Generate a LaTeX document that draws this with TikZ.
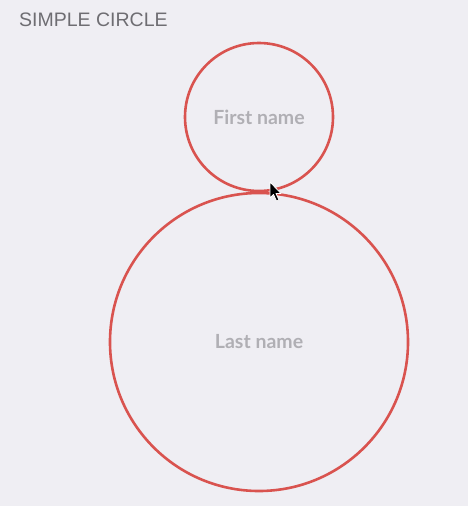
\documentclass[tikz,border=0pt]{standalone}
\usepackage{fontspec}
\setmainfont{Liberation Sans}
\newfontfamily\labelfont{Lato}
\definecolor{bg}{HTML}{EFEEF3}
\definecolor{ring}{HTML}{D9534F}
\definecolor{titlegray}{HTML}{6E6D72}
\definecolor{labelgray}{HTML}{B0AFB4}
\tikzset{
  ring/.style={draw=ring, line width=2.6pt, circle, inner sep=0pt},
  lbl/.style={text=labelgray, font=\labelfont\bfseries\fontsize{19.5}{22}\selectfont},
  ttl/.style={text=titlegray, font=\fontsize{19.5}{22}\selectfont, anchor=base west, inner sep=0pt}
}
\begin{document}
\begin{tikzpicture}[x=1pt,y=-1pt]
\useasboundingbox[fill=bg] (0,0) rectangle (468,506);
\node[ttl] (title) at (19,27) {SIMPLE CIRCLE};
\node[ring, minimum size=148pt] (first) at (259,117) {};
\node[ring, minimum size=298pt] (last) at (259,342) {};
\node[lbl] (fn) at (first.center) {First name};
\node[lbl] (ln) at (last.center) {Last name};
\coordinate (cur) at (270,182);
\draw[fill=black, draw=white, line width=0.8pt, line join=round]
  (cur) -- ++(0,16) -- ++(3.5,-3.5) -- ++(3,6.5) -- ++(2.5,-1) -- ++(-3,-6.5) -- ++(5,0) -- cycle;
\end{tikzpicture}
\end{document}
